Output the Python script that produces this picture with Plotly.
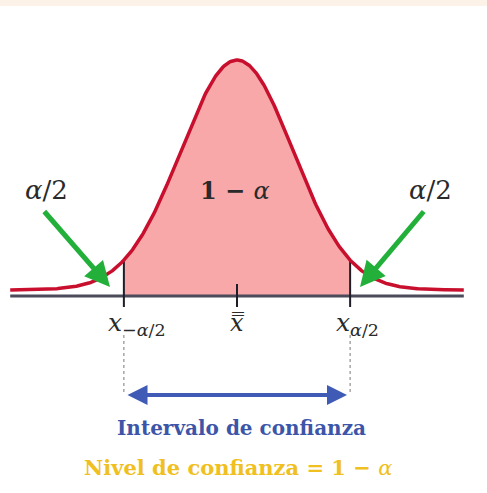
import numpy as np
import plotly.graph_objects as go

# Standard normal curve parameters (z units)
mean = 0.0
sd = 1.0
z_crit = 2.02          # critical value  x_{α/2}
z_span = 4.05          # drawn extent of the curve on either side

# Text content
label_tail = "<i>α</i>/2"
label_center = "<b>1 − </b><i>α</i>"
label_left = "<i>x</i><sub>−<i>α</i>/2</sub>"
label_right = "<i>x</i><sub><i>α</i>/2</sub>"
label_mean = "<i>x̿</i>"
label_interval = "<b>Intervalo de confianza</b>"
label_level = "<b>Nivel de confianza = 1 − </b><i>α</i>"

# Pixel-to-data helpers for the 487x493 canvas
W, H = 487, 493
X0_PX, SCALE_X = 237.0, 56.0
BASE_PX, PEAK_H = 290.0, 230.0


def zx(px):
    return (px - X0_PX) / SCALE_X


def hy(py):
    return (BASE_PX - py) / PEAK_H


def density(z):
    return np.exp(-0.5 * ((z - mean) / sd) ** 2)


z = np.linspace(-z_span, z_span, 400)
h = density(z)

axis_h = hy(296)

zc = np.linspace(-z_crit, z_crit, 200)
hc = density(zc)

fig = go.Figure()

# shaded central area (1 − α)
fig.add_trace(go.Scatter(
    x=np.concatenate([zc, zc[::-1]]),
    y=np.concatenate([hc, np.full_like(zc, axis_h)]),
    fill="toself", fillcolor="#f9a8aa", line=dict(width=0),
    mode="lines", hoverinfo="skip", showlegend=False))

# horizontal axis line
fig.add_trace(go.Scatter(
    x=[-z_span, z_span], y=[axis_h, axis_h], mode="lines",
    line=dict(color="#4b4b5a", width=3), hoverinfo="skip", showlegend=False))

# critical value markers and centre tick
for zz in (-z_crit, z_crit):
    fig.add_trace(go.Scatter(
        x=[zz, zz], y=[density(zz), hy(307)], mode="lines",
        line=dict(color="#1e1e28", width=2), hoverinfo="skip", showlegend=False))
    fig.add_trace(go.Scatter(
        x=[zz, zz], y=[hy(335), hy(393)], mode="lines",
        line=dict(color="#7a7a7a", width=1, dash="3px,3px"),
        hoverinfo="skip", showlegend=False))
fig.add_trace(go.Scatter(
    x=[mean, mean], y=[hy(284), hy(307)], mode="lines",
    line=dict(color="#1e1e28", width=2), hoverinfo="skip", showlegend=False))

# the normal curve
fig.add_trace(go.Scatter(
    x=z, y=h, mode="lines", line=dict(color="#c8102e", width=3.5),
    hoverinfo="skip", showlegend=False))

ann = []
serif = "DejaVu Serif"

# green arrows pointing at the tails
ann.append(dict(x=zx(110), y=hy(287), ax=zx(43), ay=hy(210), xref="x", yref="y",
                axref="x", ayref="y", showarrow=True, arrowhead=2, arrowsize=1.0,
                arrowwidth=5, arrowcolor="#22b03a", text=""))
ann.append(dict(x=zx(360), y=hy(287), ax=zx(425), ay=hy(210), xref="x", yref="y",
                axref="x", ayref="y", showarrow=True, arrowhead=2, arrowsize=1.0,
                arrowwidth=5, arrowcolor="#22b03a", text=""))

# double arrow for the interval
ann.append(dict(x=zx(347), y=hy(395), ax=zx(126), ay=hy(395), xref="x", yref="y",
                axref="x", ayref="y", showarrow=True, arrowhead=2, startarrowhead=2,
                arrowside="end+start", arrowsize=1.0, startarrowsize=1.0,
                arrowwidth=4, arrowcolor="#3f5bb5", text=""))


def txt(x, y, s, size, color="#2a2a2a"):
    ann.append(dict(x=x, y=y, xref="x", yref="y", text=s, showarrow=False,
                    xanchor="center", yanchor="middle",
                    font=dict(family=serif, size=size, color=color)))


txt(zx(46), hy(190), label_tail, 26)
txt(zx(430), hy(190), label_tail, 26)
txt(zx(235), hy(190), label_center, 24)
txt(zx(137), hy(324), label_left, 25)
txt(zx(237), hy(323), label_mean, 24)
txt(zx(357), hy(324), label_right, 25)
txt(zx(241), hy(428), label_interval, 20, "#3d55a8")
txt(zx(238), hy(467), label_level, 21, "#f0c020")

fig.update_layout(
    width=W, height=H, margin=dict(l=0, r=0, t=0, b=0),
    paper_bgcolor="white", plot_bgcolor="white",
    xaxis=dict(range=[zx(0), zx(W)], visible=False, fixedrange=True),
    yaxis=dict(range=[hy(H), hy(0)], visible=False, fixedrange=True),
    annotations=ann,
    shapes=[dict(type="rect", xref="paper", yref="paper", x0=0, x1=1,
                 y0=1 - 6 / H, y1=1, fillcolor="#fdf2e8", line=dict(width=0),
                 layer="below")],
)

fig.write_html("out.html")
